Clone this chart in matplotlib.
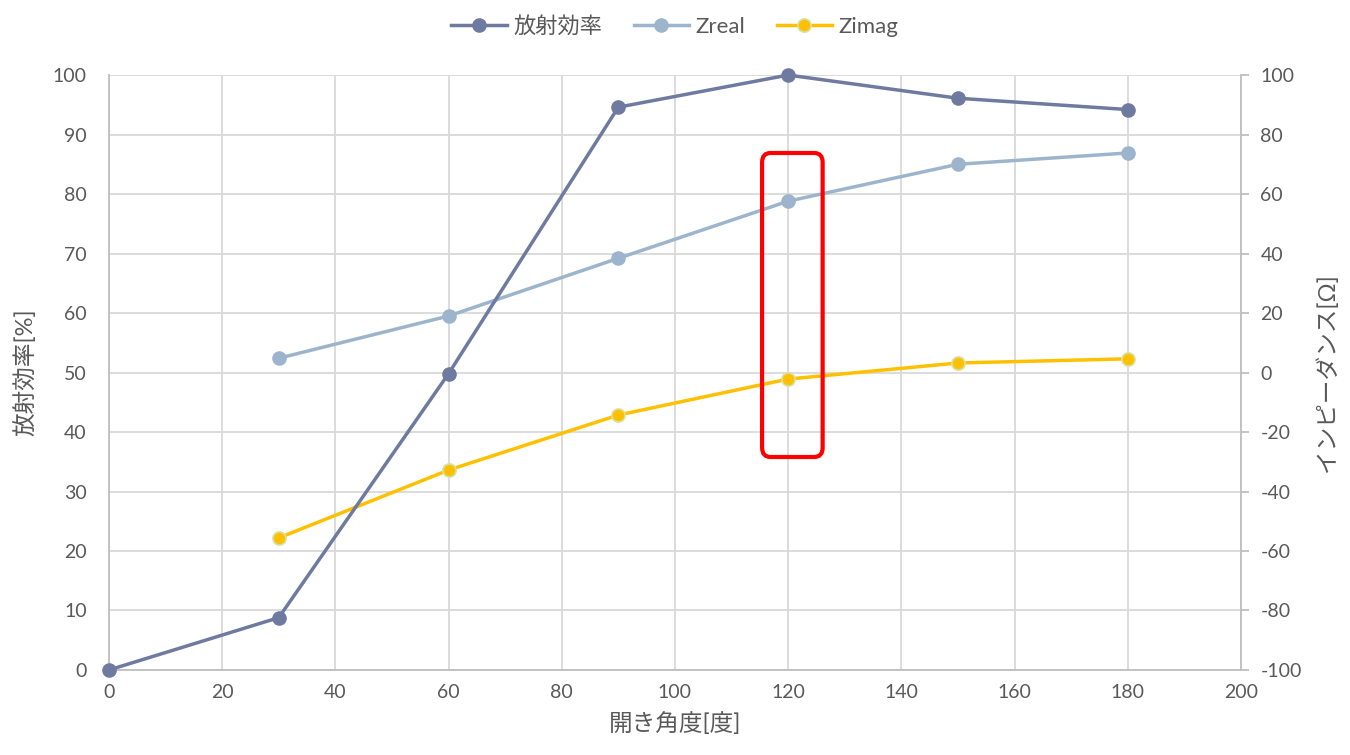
import matplotlib.pyplot as plt
from matplotlib.patches import FancyBboxPatch

plt.rcParams['font.family'] = ['Lato', 'Noto Sans CJK JP', 'DejaVu Sans']
plt.rcParams['axes.unicode_minus'] = False

# データ
angle_eff = [0, 30, 60, 90, 120, 150, 180]
efficiency = [0, 8.8, 49.8, 94.6, 100, 96.1, 94.2]
angle_z = [30, 60, 90, 120, 150, 180]
z_real = [4.8, 19.0, 38.4, 57.6, 70.0, 73.8]
z_imag = [-55.6, -32.8, -14.3, -2.2, 3.2, 4.6]

x_ticks = list(range(0, 201, 20))
left_ticks = list(range(0, 101, 10))
right_ticks = list(range(-100, 101, 20))

text_col = '#595959'
grid_col = '#D9D9D9'
spine_col = '#BFBFBF'

fig = plt.figure(figsize=(13.5, 7.55), dpi=100)
ax = fig.add_axes([0.0807, 0.1126, 0.8385, 0.788])
ax2 = ax.twinx()

ax.set_xlim(0, 200)
ax.set_ylim(0, 100)
ax2.set_ylim(-100, 100)
ax.set_xticks(x_ticks)
ax.set_yticks(left_ticks)
ax2.set_yticks(right_ticks)
ax.grid(True, color=grid_col, linewidth=1.3)
ax.set_axisbelow(True)

for a in (ax, ax2):
    for s in a.spines.values():
        s.set_visible(False)
ax.spines['bottom'].set_visible(True)
ax.spines['bottom'].set_color(spine_col)
ax.spines['bottom'].set_linewidth(1.3)
ax.spines['left'].set_visible(True)
ax.spines['left'].set_color(spine_col)
ax.spines['left'].set_linewidth(1.3)
ax2.spines['right'].set_visible(True)
ax2.spines['right'].set_color(spine_col)
ax2.spines['right'].set_linewidth(1.3)

ax.tick_params(axis='y', length=0, labelsize=14, labelcolor=text_col, pad=16)
ax.tick_params(axis='x', length=0, labelsize=14, labelcolor=text_col, pad=10)
ax2.tick_params(axis='y', length=6, width=1.3, color=spine_col, labelsize=14,
                labelcolor=text_col, pad=8)

l2, = ax2.plot(angle_z, z_real, color='#9DB5CC', linewidth=2.5, marker='o',
               markersize=9.5, label='Zreal', zorder=3, clip_on=False)
l3, = ax2.plot(angle_z, z_imag, color='#FFC000', linewidth=2.5, marker='o',
               markersize=9.5, markeredgecolor='#D6E2A8', markeredgewidth=1.2,
               label='Zimag', zorder=3, clip_on=False)
l1, = ax2.plot(angle_eff, [e * 2 - 100 for e in efficiency], color='#6F7AA0',
               linewidth=2.5, marker='o', markersize=9.5, label='放射効率',
               zorder=4, clip_on=False)

# 赤枠
rect = FancyBboxPatch((115.4, 35.8), 10.7, 51.1,
                      boxstyle='round,pad=0,rounding_size=1.5',
                      fill=False, edgecolor='#FF0000',
                      linewidth=3, zorder=5, mutation_aspect=1.05)
ax2.add_patch(rect)
rect.set_transform(ax.transData)

ax.set_xlabel('開き角度[度]', fontsize=17, color=text_col, labelpad=8)
ax.set_ylabel('放射効率[%]', fontsize=17, color=text_col, labelpad=12)
ax2.set_ylabel('インピーダンス[Ω]', fontsize=17, color=text_col, labelpad=10)

fig.legend(handles=[l1, l2, l3], loc='upper center', bbox_to_anchor=(0.5, 1.005),
           ncol=3, frameon=False, fontsize=16, labelcolor=text_col,
           handlelength=2.5, columnspacing=1.4, handletextpad=0.3)

fig.savefig('out.png', dpi=100)
